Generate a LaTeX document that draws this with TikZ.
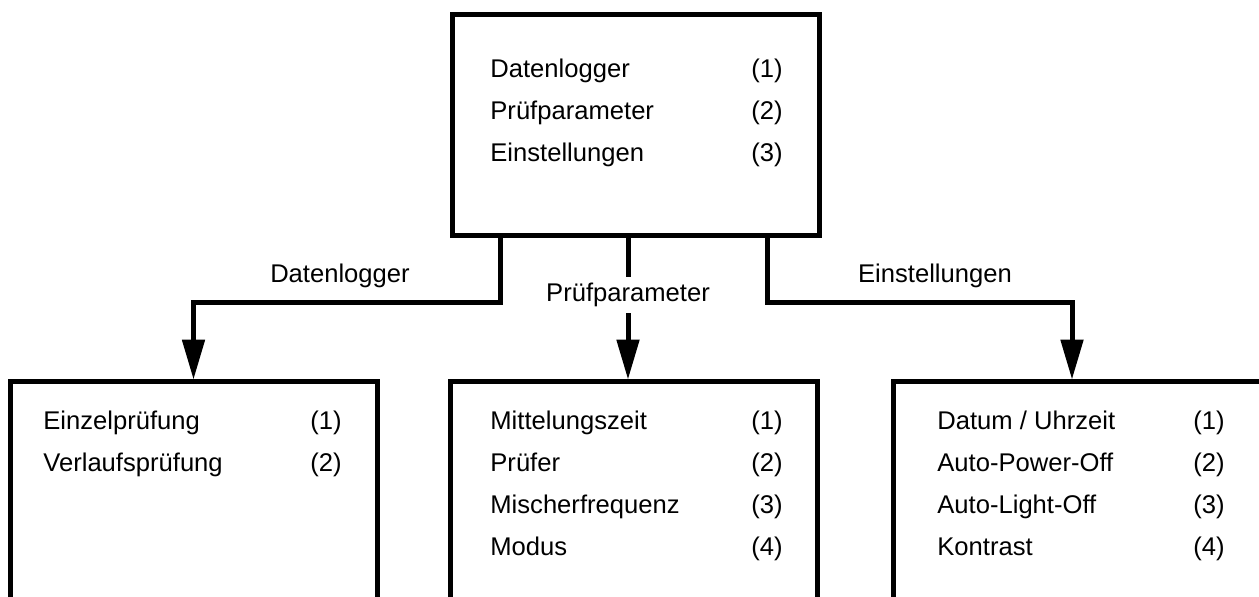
\documentclass[tikz,border=0pt]{standalone}
\usepackage{fontspec}
\setmainfont{Liberation Sans}
\usetikzlibrary{arrows.meta}
\begin{document}
\begin{tikzpicture}[x=0.5pt,y=-0.5pt,font=\fontsize{12.8}{15}\selectfont,
	box/.style={draw,line width=2.5pt,minimum width=183.5pt,inner sep=0pt,outer sep=0pt,anchor=north west},
	item/.style={anchor=base west,inner sep=0pt},
	conn/.style={line width=2.5pt},
	arr/.style={conn,-{Triangle[width=11pt,length=20pt]},shorten >=1.2pt}]
				\clip (0,0) rectangle (1259,597);
				% kaesten
				\node[box,minimum height=110.5pt] (menu) at (452,15) {};
				\node[box,minimum height=160pt] (logger) at (10,382) {};
				\node[box,minimum height=160pt] (param) at (450,382) {};
				\node[box,minimum height=160pt,minimum width=186pt] (setup) at (893,382) {};
				% hauptmenue
				\node[item] (m1) at (490,78) {Datenlogger};
				\node[item] (m1n) at (751,78) {(1)};
				\node[item] (m2) at (490,120) {Prüfparameter};
				\node[item] (m2n) at (751,120) {(2)};
				\node[item] (m3) at (490,162) {Einstellungen};
				\node[item] (m3n) at (751,162) {(3)};
				% datenlogger
				\node[item] (l1) at (43,430) {Einzelprüfung};
				\node[item] (l1n) at (310,430) {(1)};
				\node[item] (l2) at (43,472) {Verlaufsprüfung};
				\node[item] (l2n) at (310,472) {(2)};
				% pruefparameter
				\node[item] (p1) at (490,430) {Mittelungszeit};
				\node[item] (p1n) at (751,430) {(1)};
				\node[item] (p2) at (490,472) {Prüfer};
				\node[item] (p2n) at (751,472) {(2)};
				\node[item] (p3) at (490,514) {Mischerfrequenz};
				\node[item] (p3n) at (751,514) {(3)};
				\node[item] (p4) at (490,556) {Modus};
				\node[item] (p4n) at (751,556) {(4)};
				% einstellungen
				\node[item] (s1) at (937,430) {Datum / Uhrzeit};
				\node[item] (s1n) at (1193,430) {(1)};
				\node[item] (s2) at (937,472) {Auto-Power-Off};
				\node[item] (s2n) at (1193,472) {(2)};
				\node[item] (s3) at (937,514) {Auto-Light-Off};
				\node[item] (s3n) at (1193,514) {(3)};
				\node[item] (s4) at (937,556) {Kontrast};
				\node[item] (s4n) at (1193,556) {(4)};
				% pfeile
				\node[anchor=base] (dlab) at (340,283) {Datenlogger};
				\node[anchor=base] (elab) at (935,283) {Einstellungen};
				\node[inner xsep=0pt,inner ysep=3pt] (plab) at (628,295) {Prüfparameter};
				\draw[arr] ([xshift=-67.75pt]menu.south) -- ++(0,67) -| (logger.north);
				\draw[conn] ([xshift=-3.75pt]menu.south) -- (plab.north);
				\draw[arr] (plab.south) -- (plab |- param.north);
				\draw[arr] ([xshift=65.75pt]menu.south) -- ++(0,67) -| ([xshift=89.5pt]setup.north west);
			\end{tikzpicture}
\end{document}
